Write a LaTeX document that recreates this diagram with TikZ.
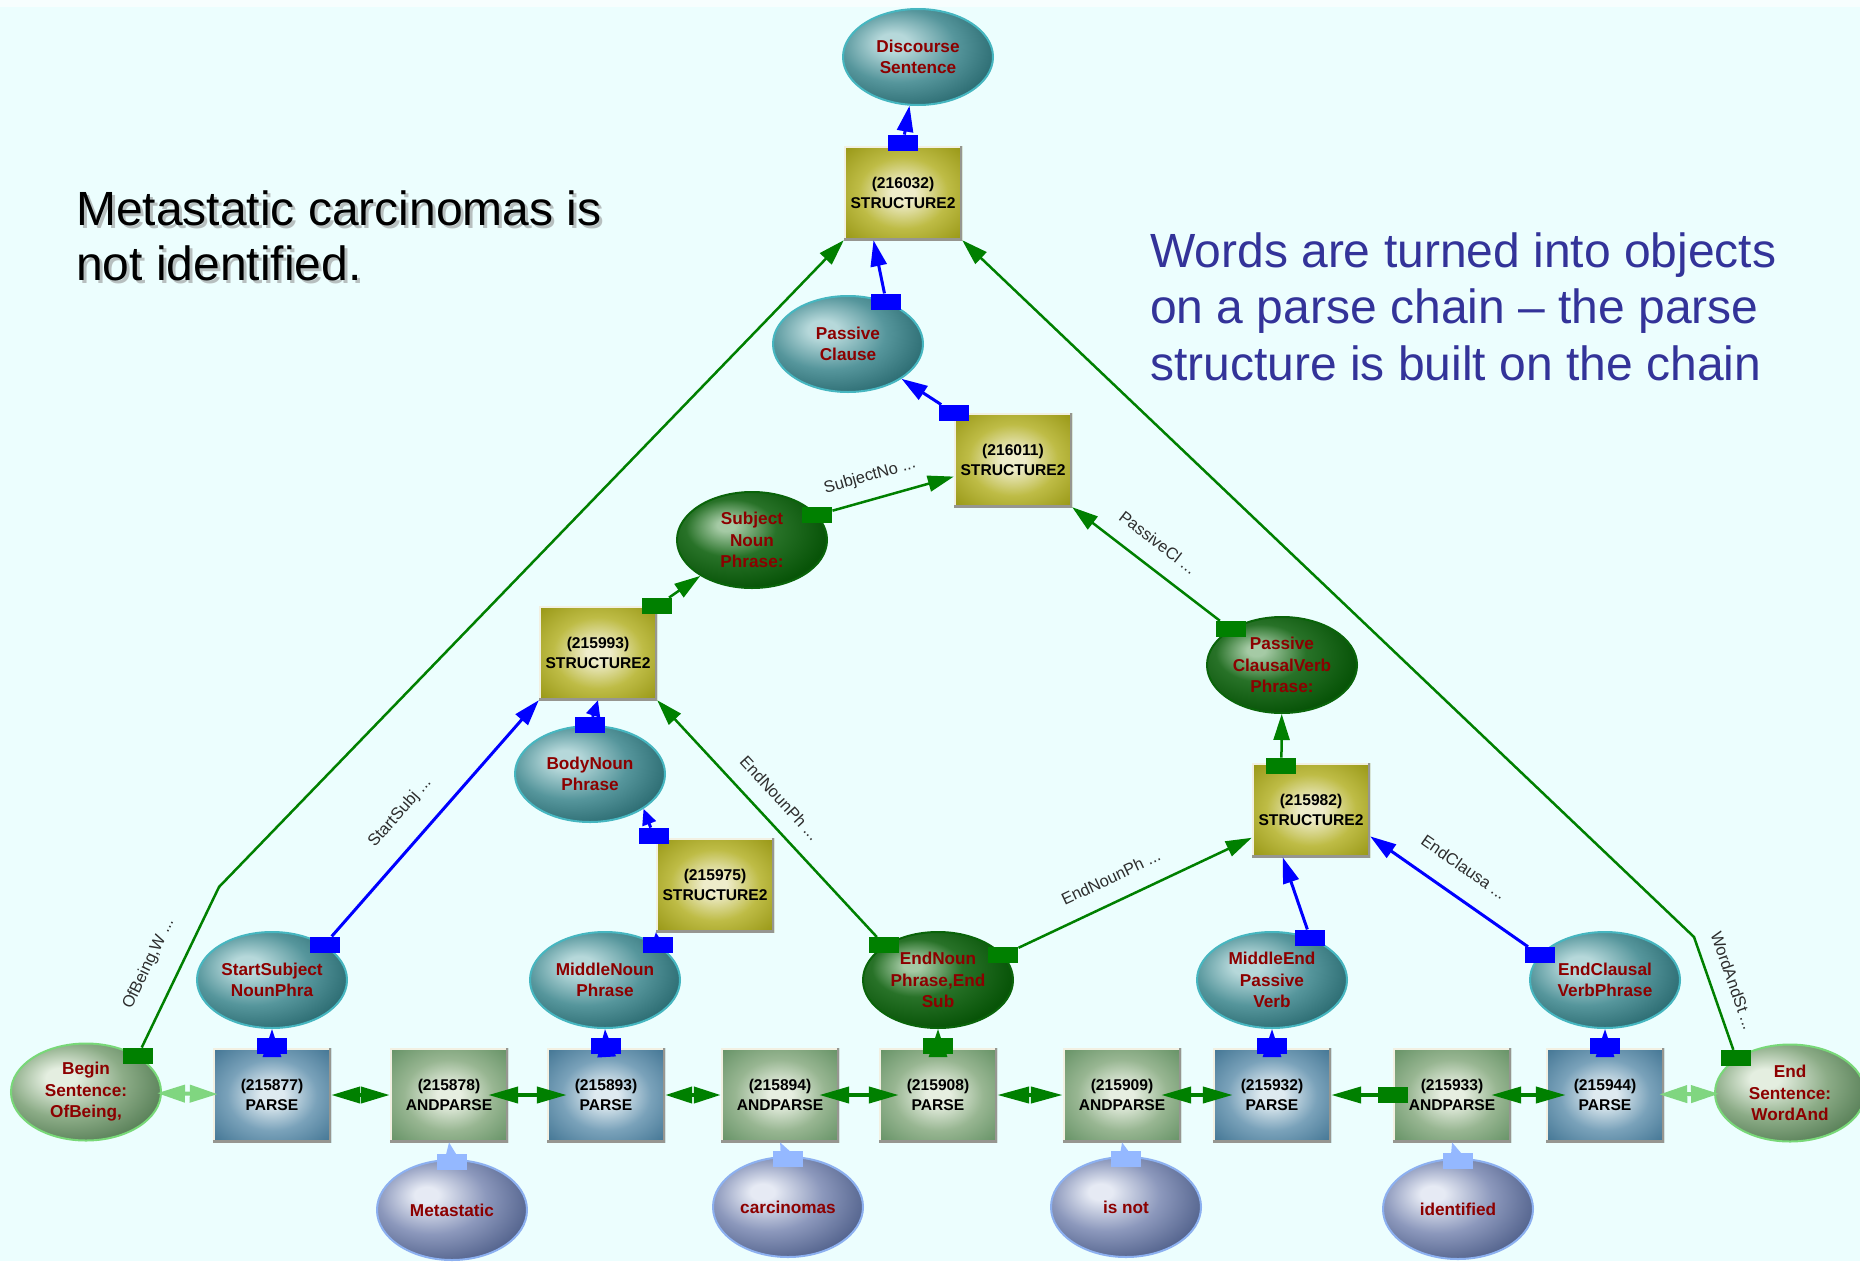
\documentclass[tikz,border=0pt]{standalone}
\usepackage{fontspec}
\setmainfont{Liberation Sans}
\usetikzlibrary{arrows.meta,shapes.geometric,calc}

% palette
\definecolor{bgcyan}{RGB}{236,254,254}
\definecolor{txtred}{RGB}{140,0,0}
\definecolor{labgray}{RGB}{45,45,45}
\definecolor{wordsblue}{RGB}{51,51,153}
\definecolor{dgreen}{RGB}{0,128,0}
\definecolor{pblue}{RGB}{0,0,255}
\definecolor{lgline}{RGB}{128,214,128}
\definecolor{wblue}{RGB}{148,184,255}
\definecolor{rimlight}{RGB}{242,240,226}
\definecolor{rimdark}{RGB}{150,150,144}

\definecolor{tealhi}{RGB}{182,216,218}
\definecolor{tealmd}{RGB}{86,150,156}
\definecolor{tealdk}{RGB}{40,104,110}
\definecolor{tealrim}{RGB}{70,182,192}

\definecolor{dghi}{RGB}{165,202,165}
\definecolor{dgmd}{RGB}{40,114,40}
\definecolor{dgdk}{RGB}{8,84,8}
\definecolor{dgrim}{RGB}{10,100,10}

\definecolor{lghi}{RGB}{228,238,224}
\definecolor{lgmd}{RGB}{140,172,135}
\definecolor{lgdk}{RGB}{84,124,84}
\definecolor{lgrim}{RGB}{120,216,120}

\definecolor{wdhi}{RGB}{230,234,244}
\definecolor{wdmd}{RGB}{140,152,188}
\definecolor{wddk}{RGB}{82,98,140}
\definecolor{wdrim}{RGB}{140,176,240}

\definecolor{olhi}{RGB}{238,236,202}
\definecolor{olmd}{RGB}{190,188,70}
\definecolor{oldk}{RGB}{154,153,24}

\definecolor{blhi}{RGB}{222,234,240}
\definecolor{blmd}{RGB}{122,162,186}
\definecolor{bldk}{RGB}{70,120,150}

\definecolor{grhi}{RGB}{230,238,224}
\definecolor{grmd}{RGB}{152,182,146}
\definecolor{grdk}{RGB}{104,148,104}

% ball-like shadings for the ellipses (highlight towards the upper left)
\pgfdeclareradialshading{tealball}{\pgfpoint{-9bp}{8bp}}{color(0bp)=(tealhi); color(5bp)=(tealhi); color(19bp)=(tealmd); color(33bp)=(tealdk); color(70bp)=(tealdk)}
\pgfdeclareradialshading{dgball}{\pgfpoint{-9bp}{8bp}}{color(0bp)=(dghi); color(3bp)=(dghi); color(15bp)=(dgmd); color(30bp)=(dgdk); color(70bp)=(dgdk)}
\pgfdeclareradialshading{lgball}{\pgfpoint{-9bp}{8bp}}{color(0bp)=(lghi); color(5bp)=(lghi); color(19bp)=(lgmd); color(33bp)=(lgdk); color(70bp)=(lgdk)}
\pgfdeclareradialshading{wdball}{\pgfpoint{-9bp}{8bp}}{color(0bp)=(wdhi); color(4bp)=(wdhi); color(18bp)=(wdmd); color(32bp)=(wddk); color(70bp)=(wddk)}
% pillow shadings for the boxes
\pgfdeclareradialshading{olpillow}{\pgfpoint{0bp}{0bp}}{color(0bp)=(olhi); color(5bp)=(olhi); color(19bp)=(olmd); color(34bp)=(oldk); color(70bp)=(oldk)}
\pgfdeclareradialshading{blpillow}{\pgfpoint{0bp}{0bp}}{color(0bp)=(blhi); color(5bp)=(blhi); color(19bp)=(blmd); color(34bp)=(bldk); color(70bp)=(bldk)}
\pgfdeclareradialshading{grpillow}{\pgfpoint{0bp}{0bp}}{color(0bp)=(grhi); color(5bp)=(grhi); color(19bp)=(grmd); color(34bp)=(grdk); color(70bp)=(grdk)}

\newcommand{\ellfont}{\fontsize{17.2}{21.5}\selectfont\bfseries}
\newcommand{\boxfont}{\fontsize{15.6}{20}\selectfont\bfseries}
\newcommand{\labfont}{\fontsize{16.5}{18}\selectfont}
\newcommand{\annfont}{\fontsize{48}{56}\selectfont}

\begin{document}
\begin{tikzpicture}[x=1pt, y=-1pt,
  every node/.style={inner sep=0pt},
  ell/.style={ellipse, minimum width=150pt, minimum height=96pt, align=center,
    font=\ellfont, text=txtred, line width=2pt},
  ellteal/.style={ell, draw=tealrim, shading=tealball},
  ellgreen/.style={ell, draw=dgrim, shading=dgball},
  elllight/.style={ell, minimum height=97pt, draw=lgrim, shading=lgball},
  ellword/.style={ell, minimum height=100pt, draw=wdrim, shading=wdball},
  boxbase/.style={rectangle, minimum width=118pt, minimum height=94pt, align=center,
    font=\boxfont, text=black,
    path picture={
      \draw[line width=4pt, rimlight]
        (path picture bounding box.south west) -- (path picture bounding box.north west)
        -- (path picture bounding box.north east);
      \draw[line width=4pt, rimdark]
        (path picture bounding box.north east) -- (path picture bounding box.south east)
        -- (path picture bounding box.south west);
    }},
  boxolive/.style={boxbase, shading=olpillow},
  boxblue/.style={boxbase, shading=blpillow},
  boxgreen/.style={boxbase, shading=grpillow},
  port/.style={rectangle, minimum width=30pt, minimum height=16pt},
  portg/.style={port, fill=dgreen},
  portb/.style={port, fill=pblue},
  portw/.style={port, fill=wblue},
  arrg/.style={draw=dgreen, line width=2.5pt, -{Triangle[length=26pt,width=16pt]}},
  arrb/.style={draw=pblue, line width=3pt, -{Triangle[length=26pt,width=16pt]}},
  arrbs/.style={draw=pblue, line width=3pt, -{Triangle[length=16pt,width=14pt]}},
  uparrb/.style={draw=pblue, line width=3pt, -{Triangle[length=28pt,width=18pt]}},
  uparrg/.style={draw=dgreen, line width=3pt, -{Triangle[length=28pt,width=18pt]}},
  arrw/.style={draw=wblue, line width=3pt, -{Triangle[length=18pt,width=14pt]}},
  chainlg/.style={draw=lgline, line width=4pt,
    {Triangle[length=28pt,width=17pt]}-{Triangle[length=28pt,width=17pt]},
    shorten <=-5pt, shorten >=-5pt},
  chaind/.style={draw=dgreen, line width=4pt,
    {Triangle[length=30pt,width=16pt]}-{Triangle[length=30pt,width=16pt]},
    shorten <=-20pt, shorten >=-20pt},
  diamd/.style={draw=dgreen, line width=4pt,
    {Triangle[length=#1,width=16pt]}-{Triangle[length=#1,width=16pt]}},
  elabel/.style={font=\labfont, text=labgray, sloped, inner sep=1pt},
  ann/.style={anchor=base west, font=\annfont}
]
\useasboundingbox (0,0) rectangle (1860,1261);
\fill[bgcyan] (0,0) rectangle (1860,1261);
\fill[white!60!bgcyan] (0,0) rectangle (1860,7);

% ---- text blocks ----
\node[ann, text=black!45, opacity=.55] (t1s) at (79,228) {Metastatic carcinomas is};
\node[ann, text=black!45, opacity=.55] (t2s) at (79,283) {not identified.};
\node[ann, text=black] (t1) at (76,225) {Metastatic carcinomas is};
\node[ann, text=black] (t2) at (76,280) {not identified.};
\node[ann, text=wordsblue] (r1) at (1150,267) {Words are turned into objects};
\node[ann, text=wordsblue] (r2) at (1150,323) {on a parse chain – the parse};
\node[ann, text=wordsblue] (r3) at (1150,380) {structure is built on the chain};

% ---- structure nodes ----
\node[ellteal] (ds) at (918,57) {Discourse\\Sentence};
\node[boxolive] (s1) at (903,193) {(216032)\\STRUCTURE2};
\node[ellteal] (pc) at (848,344) {Passive\\Clause};
\node[boxolive] (s2) at (1013,460) {(216011)\\STRUCTURE2};
\node[ellgreen] (snp) at (752,540) {Subject\\Noun\\Phrase:};
\node[boxolive] (s3) at (598,653) {(215993)\\STRUCTURE2};
\node[ellteal] (bnp) at (590,774) {BodyNoun\\Phrase};
\node[boxolive] (s4) at (715,885) {(215975)\\STRUCTURE2};
\node[ellgreen] (pcvp) at (1282,665) {Passive\\ClausalVerb\\Phrase:};
\node[boxolive] (s5) at (1311,810) {(215982)\\STRUCTURE2};

% ---- phrase role nodes ----
\node[ellteal] (ssnp) at (272,980) {StartSubject\\NounPhra};
\node[ellteal] (mnp) at (605,980) {MiddleNoun\\Phrase};
\node[ellgreen] (enp) at (938,980) {EndNoun\\Phrase,End\\Sub};
\node[ellteal] (mepv) at (1272,980) {MiddleEnd\\Passive\\Verb};
\node[ellteal] (ecvp) at (1605,980) {EndClausal\\VerbPhrase};

% ---- parse chain ----
\node[elllight] (bs) at (86,1092) {Begin\\Sentence:\\OfBeing,};
\node[boxblue] (b1) at (272,1095) {(215877)\\PARSE};
\node[boxgreen] (b2) at (449,1095) {(215878)\\ANDPARSE};
\node[boxblue] (b3) at (606,1095) {(215893)\\PARSE};
\node[boxgreen] (b4) at (780,1095) {(215894)\\ANDPARSE};
\node[boxgreen] (b5) at (938,1095) {(215908)\\PARSE};
\node[boxgreen] (b6) at (1122,1095) {(215909)\\ANDPARSE};
\node[boxblue] (b7) at (1272,1095) {(215932)\\PARSE};
\node[boxgreen] (b8) at (1452,1095) {(215933)\\ANDPARSE};
\node[boxblue] (b9) at (1605,1095) {(215944)\\PARSE};
\node[elllight] (es) at (1790,1093) {End\\Sentence:\\WordAnd};

% ---- words ----
\node[ellword] (w1) at (452,1210) {Metastatic};
\node[ellword] (w2) at (788,1207) {carcinomas};
\node[ellword] (w3) at (1126,1207) {is not};
\node[ellword] (w4) at (1458,1209) {identified};

% ---- chain links ----
\draw[chainlg] (bs) -- (b1);
\draw[diamd=29pt] (b1) -- (b2);
\draw[chaind] (b2) -- (b3);
\draw[diamd=27pt] (b3) -- (b4);
\draw[chaind] (b4) -- (b5);
\draw[diamd=32pt] (b5) -- (b6);
\draw[chaind] (b6) -- (b7);
\node[portg] (q18) at (b8.west) {};
\draw[draw=dgreen, line width=4pt, -{Triangle[length=30pt,width=16pt]}] (q18) -- (b7);
\draw[chaind] (b8) -- (b9);
\draw[chainlg] (b9) -- (es);

% ---- words into the chain ----
\node[portw] (v1) at ([yshift=-3pt]w1.north) {};
\node[portw] (v2) at ([yshift=-3pt]w2.north) {};
\node[portw] (v3) at ([yshift=-3pt]w3.north) {};
\node[portw] (v4) at ([yshift=-3pt]w4.north) {};
\draw[arrw] (v1.center) -- (b2.south);
\draw[arrw] (v2.center) -- (b4.south);
\draw[arrw] (v3.center) -- (b6.south);
\draw[arrw] (v4.center) -- (b8.south);

% ---- parse boxes up to their roles ----
\node[portb] (u1) at ([yshift=2pt]b1.north) {};
\node[portb] (u3) at ([yshift=2pt]b3.north) {};
\node[portg] (u5) at ([yshift=2pt]b5.north) {};
\node[portb] (u7) at ([yshift=2pt]b7.north) {};
\node[portb] (u9) at ([yshift=2pt]b9.north) {};
\draw[uparrb] (u1.center) -- (ssnp.south);
\draw[uparrb] (u3.center) -- (mnp.south);
\draw[uparrg] (u5.center) -- (enp.south);
\draw[uparrb] (u7.center) -- (mepv.south);
\draw[uparrb] (u9.center) -- (ecvp.south);

% ---- structure building ----
\node[portb] (q1) at ([yshift=3pt]s1.north) {};
\draw[arrb] (q1) -- (ds);

\node[portb] (q2) at (pc.48) {};
\draw[arrb] (q2) -- (s1.238);

\node[portb] (q3) at (s2.north west) {};
\draw[arrb] (q3) -- (pc);

\node[portg] (q4) at (snp.21) {};
\draw[arrg] (q4) -- node[elabel, pos=.36, above=13pt] {SubjectNo ...} (s2);

\node[portg] (q5) at (s3.north east) {};
\draw[arrg] (q5) -- (snp);

\node[portb] (q6) at (bnp.north) {};
\draw[arrbs] (q6) -- (s3.south);

\node[portb] (q7) at ([xshift=-2pt,yshift=2pt]s4.north west) {};
\draw[arrbs] (q7) -- (bnp.-33);

\node[portb] (q8) at (mnp.34) {};
\draw[arrbs] (q8) -- (s4.south west);

\node[portb] (q9) at (ssnp.34) {};
\draw[arrb] (q9) -- node[elabel, pos=.44, above=20pt] {StartSubj ...} (s3.south west);

\node[portg] (q10) at (enp.147) {};
\draw[arrg] (q10) -- node[elabel, pos=.52, above=15pt] {EndNounPh ...} (s3.south east);

\node[portg] (q11) at (enp.21) {};
\draw[arrg] (q11) -- node[elabel, pos=.44, above=16pt] {EndNounPh ...} (s5);

\node[portb] (q12) at (mepv.48) {};
\draw[arrb] (q12) -- (s5.239);

\node[portb] (q13) at (ecvp.159) {};
\draw[arrb] (q13) -- node[elabel, pos=.51, above=20pt] {EndClausa ...} (s5.-24);

\node[portg] (q14) at (pcvp.145) {};
\draw[arrg] (q14) -- node[elabel, pos=.52, above=16pt] {PassiveCl ...} (s2.south east);

\node[portg] (q15) at ($(s5.north)!0.5!(s5.north west)+(0,3)$) {};
\draw[arrg] (q15) -- (pcvp);

% ---- sentence ends to the top structure ----
\coordinate (kL) at (219,887);
\coordinate (kR) at (1694,937);
\node[portg] (q16) at (bs.35) {};
\node[portg] (q17) at (es.147) {};
\draw[arrg] (q16) -- node[elabel, pos=.44, above=20pt] {OfBeing,W ...} (kL) -- (s1.south west);
\draw[arrg] (q17) -- node[elabel, pos=.55, above=14pt] {WordAndSt ...} (kR) -- (s1.south east);
\end{tikzpicture}
\end{document}
